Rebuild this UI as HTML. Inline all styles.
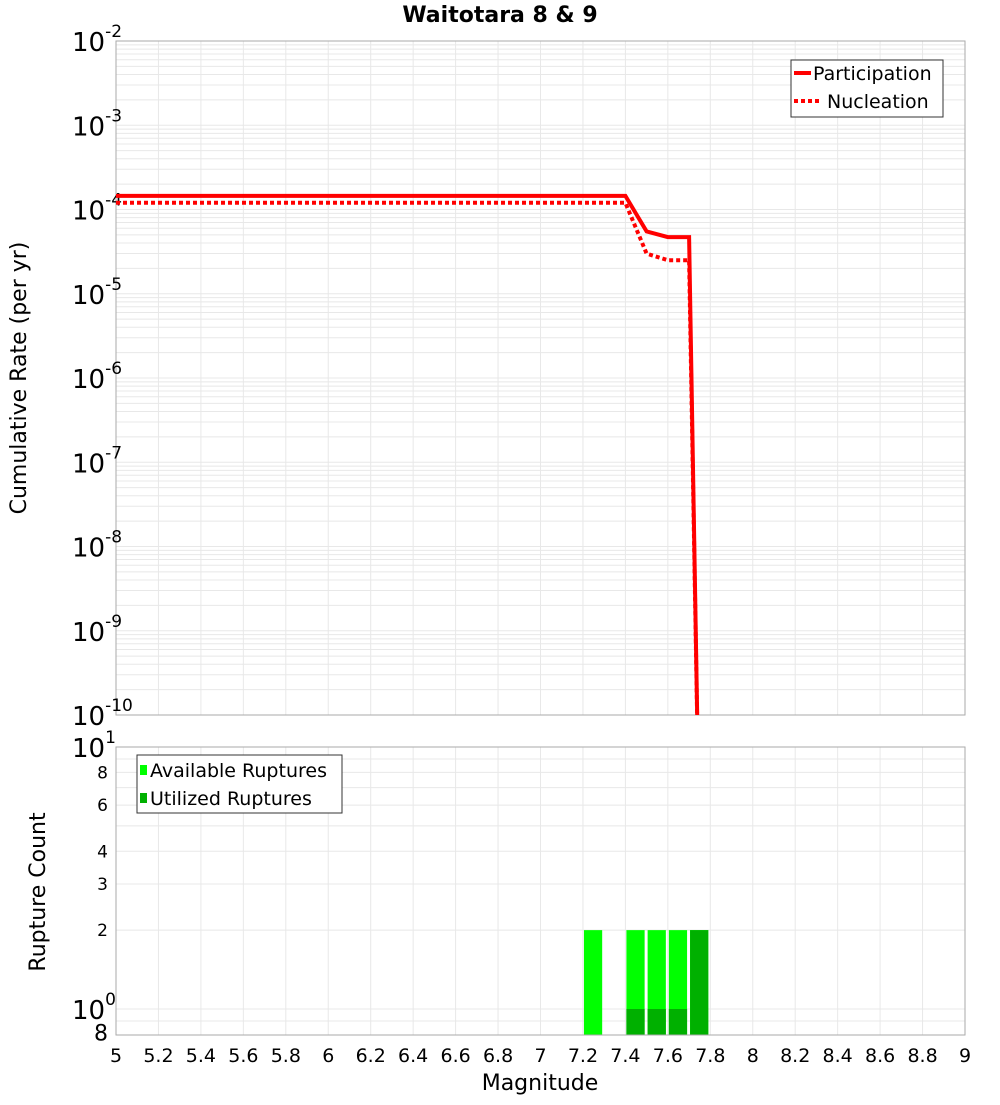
<!DOCTYPE html>
<html><head><meta charset="utf-8"><style>
body{margin:0;background:#fff;}
svg text{font-family:"DejaVu Sans","Liberation Sans",sans-serif;}
</style></head><body>
<svg id="c" width="1000" height="1100" xmlns="http://www.w3.org/2000/svg"></svg>
<script>
const magTicks=[5,5.2,5.4,5.6,5.8,6,6.2,6.4,6.6,6.8,7,7.2,7.4,7.6,7.8,8,8.2,8.4,8.6,8.8,9];
const rateDecades=[-2,-3,-4,-5,-6,-7,-8,-9,-10];
const partMag=[5,7.4,7.5,7.6,7.7,7.7,7.745];
const partRate=[1.45e-4,1.45e-4,5.5e-5,4.7e-5,4.7e-5,4.7e-5,1e-11];
const nuclMag=[5,7.4,7.5,7.6,7.7,7.7,7.745];
const nuclRate=[1.2e-4,1.2e-4,3.0e-5,2.5e-5,2.5e-5,2.5e-5,1e-11];
const binMag=[7.2,7.4,7.5,7.6,7.7];
const availCount=[2,2,2,2,2];
const utilCount=[0,1,1,1,2];
const countTicks=[[10,"10",true],[8,"8"],[6,"6"],[4,"4"],[3,"3"],[2,"2"],[1,"10",true],[0.8,"8"]];

const NS="http://www.w3.org/2000/svg";
const svg=document.getElementById('c');
function el(t,a,p){const e=document.createElementNS(NS,t);for(const k in a)e.setAttribute(k,a[k]);(p||svg).appendChild(e);return e;}
const X0=116,X1=965;
const x=m=>X0+(m-5)/4*(X1-X0);
const T0=41,T1=715;
const yTop=v=>T0+(-2-Math.log10(v))/8*(T1-T0);
const B0=747,B1=1035;
const yBot=v=>B0+(1-Math.log10(v))*262;

// title
let t=el('text',{x:500,y:22,'text-anchor':'middle','font-size':22,'font-weight':'bold'});t.textContent='Waitotara 8 & 9';


// top grid
const gTop=el('g',{});

for(let d=-10;d<-2;d++)for(let k=1;k<10;k++){const yy=yTop(k*Math.pow(10,d));el('line',{x1:X0,x2:X1,y1:yy,y2:yy,stroke:'#e8e8e8','stroke-width':1},gTop);}
magTicks.forEach(m=>{el('line',{x1:x(m),x2:x(m),y1:T0,y2:T1,stroke:'#e8e8e8'},gTop);el('line',{x1:x(m),x2:x(m),y1:B0,y2:B1,stroke:'#e8e8e8'},gTop);});
for(let v of [1,2,3,4,5,6,7,8,9,10,0.9]){const yy=yBot(v);if(yy<B1)el('line',{x1:X0,x2:X1,y1:yy,y2:yy,stroke:'#e8e8e8'},gTop);}

// top frame
let f=el('rect',{x:X0,y:T0,width:X1-X0,height:T1-T0,fill:'none',stroke:'#aaa'});


// top y labels
rateDecades.forEach(d=>{const yy=yTop(Math.pow(10,d));
 const tx=el('text',{x:72,y:yy+10,'font-size':26});tx.textContent='10';
 
 const ts=el('tspan',{dy:-14,'font-size':17},tx);ts.textContent=String(d);});
t=el('text',{x:0,y:0,'font-size':22,'text-anchor':'middle',transform:'translate(26,378) rotate(-90)'});t.textContent='Cumulative Rate (per yr)';


// lines
const clip=el('clipPath',{id:'cp'});el('rect',{x:X0,y:T0,width:X1-X0,height:T1-T0},clip);
function path(ms,vs){return ms.map((m,i)=>(i?'L':'M')+x(m).toFixed(1)+','+yTop(vs[i]).toFixed(1)).join('');}
let p=el('path',{d:path(nuclMag,nuclRate),fill:'none',stroke:'#f00','stroke-width':4,'stroke-dasharray':'4,3','clip-path':'url(#cp)'});

p=el('path',{d:path(partMag,partRate),fill:'none',stroke:'#f00','stroke-width':4,'clip-path':'url(#cp)'});


// top legend
const lg=el('g',{});
el('rect',{x:791,y:60,width:152,height:57,fill:'#fff',stroke:'#333'},lg);
el('line',{x1:794,x2:811,y1:73,y2:73,stroke:'#f00','stroke-width':4},lg);
el('line',{x1:794,x2:822,y1:101,y2:101,stroke:'#f00','stroke-width':4,'stroke-dasharray':'4,3'},lg);
t=el('text',{x:813,y:80,'font-size':19},lg);t.textContent='Participation';
t=el('text',{x:827,y:108,'font-size':19},lg);t.textContent='Nucleation';

// bottom bars
binMag.forEach((m,i)=>{
 let r=el('rect',{x:x(m)+1,y:yBot(availCount[i]),width:x(m+0.1)-x(m)-3,height:B1-yBot(availCount[i]),fill:'#00ff00'});
 
 if(utilCount[i]>0){r=el('rect',{x:x(m)+1,y:yBot(utilCount[i]),width:x(m+0.1)-x(m)-3,height:B1-yBot(utilCount[i]),fill:'#00b000'});
 }
});
f=el('rect',{x:X0,y:B0,width:X1-X0,height:B1-B0,fill:'none',stroke:'#aaa'});


// bottom y labels
countTicks.forEach(([v,s,big])=>{const yy=yBot(v);
 if(big){const tx=el('text',{x:72,y:yy+10,'font-size':26});tx.textContent=s;
  
  const ts=el('tspan',{dy:-14,'font-size':17},tx);ts.textContent=v==10?'1':'0';}
 else{const tx=el('text',{x:108,y:yy+6,'font-size':v==0.8?22:17,'text-anchor':'end'});tx.textContent=s;
  }
});
t=el('text',{x:0,y:0,'font-size':22,'text-anchor':'middle',transform:'translate(45,892) rotate(-90)'});t.textContent='Rupture Count';


// bottom legend
const lg2=el('g',{});
el('rect',{x:137,y:755,width:205,height:58,fill:'#fff',stroke:'#333'},lg2);
el('rect',{x:140,y:765,width:7,height:10,fill:'#00ff00'},lg2);
el('rect',{x:140,y:793,width:7,height:10,fill:'#00b000'},lg2);
t=el('text',{x:150,y:777,'font-size':19},lg2);t.textContent='Available Ruptures';
t=el('text',{x:150,y:805,'font-size':19},lg2);t.textContent='Utilized Ruptures';

// x tick labels
magTicks.forEach(m=>{const tx=el('text',{x:x(m),y:1062,'font-size':19,'text-anchor':'middle'});tx.textContent=String(m);
 });
t=el('text',{x:540,y:1090,'font-size':22,'text-anchor':'middle'});t.textContent='Magnitude';

</script>
</body></html>
